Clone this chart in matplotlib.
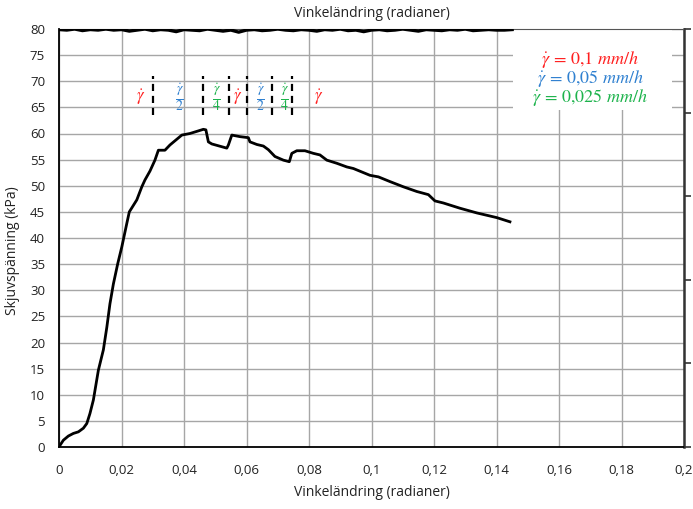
import numpy as np
import matplotlib.pyplot as plt
from matplotlib.patches import Rectangle
from matplotlib.ticker import FuncFormatter

plt.rcParams['font.family'] = ['Open Sans', 'DejaVu Sans']
plt.rcParams['mathtext.fontset'] = 'stix'

# shear stress vs angular strain
strain = [0.0, 0.0003, 0.0014, 0.003, 0.0046, 0.0062, 0.0078, 0.0089, 0.0099, 0.011,
          0.0126, 0.0142, 0.0153, 0.0163, 0.0174, 0.0188, 0.0201, 0.0217, 0.0225,
          0.0249, 0.0265, 0.0275, 0.0291, 0.0307, 0.0318, 0.0339, 0.0355, 0.0377,
          0.0393, 0.0419, 0.0446, 0.0462, 0.047, 0.0478, 0.0489, 0.0537, 0.0542,
          0.0553, 0.0579, 0.0606, 0.0611, 0.0633, 0.0654, 0.067, 0.0691, 0.0718,
          0.0737, 0.0745, 0.0761, 0.0787, 0.0814, 0.0835, 0.0857, 0.0889, 0.0921,
          0.0942, 0.0995, 0.1022, 0.1059, 0.1102, 0.1145, 0.1182, 0.1203, 0.123,
          0.1283, 0.1337, 0.1401, 0.1443]
stress = [0.0, 0.3, 1.3, 2.1, 2.6, 2.9, 3.6, 4.5, 6.4, 9.0,
          14.7, 18.6, 22.9, 27.4, 31.2, 35.1, 38.3, 42.8, 45.0,
          47.3, 49.8, 51.1, 52.8, 54.9, 56.8, 56.8, 57.8, 58.9,
          59.7, 60.0, 60.5, 60.8, 60.7, 58.4, 58.0, 57.2, 57.8,
          59.7, 59.4, 59.2, 58.4, 57.9, 57.6, 56.9, 55.6, 54.9,
          54.6, 56.2, 56.7, 56.7, 56.2, 55.9, 54.9, 54.3, 53.6,
          53.3, 52.0, 51.7, 50.8, 49.8, 48.9, 48.3, 47.1, 46.7,
          45.7, 44.8, 43.9, 43.1]

# second logged channel, pinned at the top of the scale
top_y = [79.9, 79.8, 80.0, 79.7, 79.9, 79.8, 80.0, 79.8, 79.9, 79.6, 79.8, 80.0,
         79.7, 79.9, 79.8, 79.5, 79.9, 79.8, 79.7, 80.0, 79.8, 79.6, 79.8, 79.4,
         79.8, 79.9, 79.7, 79.8, 80.0, 79.8, 79.7, 79.9, 79.8, 79.6, 79.9, 79.8,
         80.0, 79.7, 79.8, 79.5, 79.8, 79.9, 79.7, 79.8, 80.0, 79.8, 79.6, 79.9,
         79.8, 79.7, 79.9, 79.8, 80.0, 79.7, 79.8, 79.9, 79.8, 79.8, 79.9]
top_x = np.linspace(0, 0.145, len(top_y))

# rate changes
rate_changes = [0.0302, 0.0462, 0.0545, 0.0601, 0.0683, 0.0747]
rate_label_x = [0.026, 0.0387, 0.0505, 0.0572, 0.0645, 0.072, 0.0832]
rate_labels = [r'$\dot{\gamma}$', r'$\frac{\dot{\gamma}}{2}$', r'$\frac{\dot{\gamma}}{4}$',
               r'$\dot{\gamma}$', r'$\frac{\dot{\gamma}}{2}$', r'$\frac{\dot{\gamma}}{4}$',
               r'$\dot{\gamma}$']
rate_sizes = [12, 14, 14, 12, 14, 14, 12]
red, blue, green = '#ff1f1f', '#2f80d0', '#1db34c'
rate_colors = [red, blue, green, red, blue, green, red]

legend_lines = [r'$\dot{\gamma}\,=\,0{,}1\ mm/h$', r'$\dot{\gamma}\,=\,0{,}05\ mm/h$',
                r'$\dot{\gamma}\,=\,0{,}025\ mm/h$']
legend_colors = [red, blue, green]

fig = plt.figure(figsize=(6.93, 5.09), dpi=100)
ax = fig.add_axes([59 / 693, 1 - 447 / 509, 625 / 693, 418 / 509])

ax.set_xlim(0, 0.2)
ax.set_ylim(0, 80)
ax.set_xticks(np.arange(0, 0.201, 0.02))
ax.set_yticks(np.arange(0, 81, 5))
ax.xaxis.set_major_formatter(FuncFormatter(lambda v, p: ('%g' % round(v, 3)).replace('.', ',')))
ax.grid(True, color='#a6a6a6', linewidth=1.0)
ax.set_axisbelow(True)
ax.tick_params(length=0, labelsize=9.5, colors='#222222')
ax.tick_params(axis='x', pad=12)
ax.tick_params(axis='y', pad=10)

for s in ['left', 'bottom']:
    ax.spines[s].set_linewidth(1.3)
ax.spines['top'].set_color('#555555')
ax.spines['top'].set_linewidth(0.8)
ax.spines['right'].set_color('#333333')
ax.spines['right'].set_linewidth(1.8)

# white box behind the rate legend
ax.add_patch(Rectangle((0.7264, 0.806), 0.2546, 0.194, transform=ax.transAxes,
                       facecolor='white', edgecolor='none', zorder=1.5))

ax.plot(top_x, top_y, color='black', linewidth=2.4, zorder=3)
ax.plot(strain, stress, color='black', linewidth=2.0, zorder=3)

ax.vlines(rate_changes, 63.5, 71, colors='black', linewidth=1.6,
          linestyles=(0, (3.2, 2.2)), zorder=3)
for x, t, c, fs in zip(rate_label_x, rate_labels, rate_colors, rate_sizes):
    ax.text(x, 67, t, color=c, fontsize=fs, ha='center', va='center', zorder=4)

for i, (t, c) in enumerate(zip(legend_lines, legend_colors)):
    ax.text(0.17, 74.1 - i * 3.65, t, color=c, fontsize=13, ha='center',
            va='center', zorder=4)

ax.set_xlabel('Vinkeländring (radianer)', fontsize=10, color='#222222')
ax.xaxis.set_label_coords(0.5, -0.09)
ax.set_ylabel('Skjuvspänning (kPa)', fontsize=10, color='#222222')
ax.yaxis.set_label_coords(-0.062, 0.47)
ax.set_title('Vinkeländring (radianer)', fontsize=10, color='#222222', pad=9)

ax2 = ax.twinx()
ax2.set_ylim(0, 5)
ax2.set_yticks(range(6))
ax2.tick_params(axis='y', direction='out', length=5, width=1.2, labelright=False,
                color='#333333')
for s in ax2.spines.values():
    s.set_visible(False)

fig.savefig('out.png', dpi=100)
